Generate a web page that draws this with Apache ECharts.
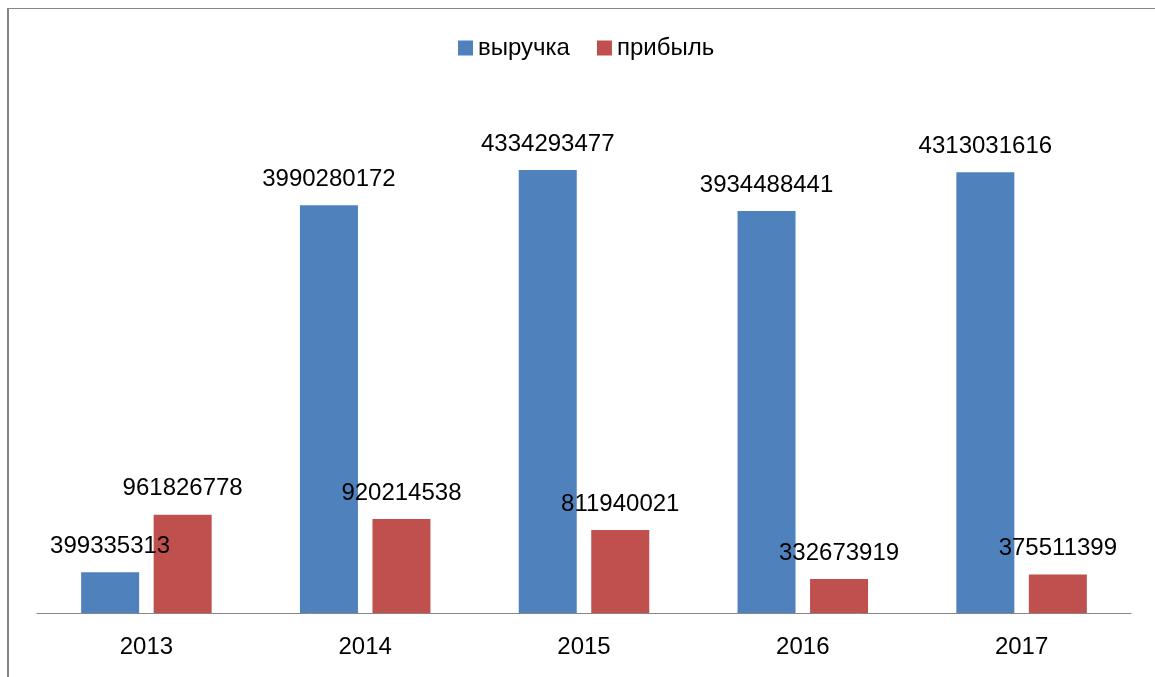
<!DOCTYPE html>
<html>
<head>
<meta charset="utf-8">
<script src="https://cdn.jsdelivr.net/npm/echarts@6/dist/echarts.min.js"></script>
<style>html,body{margin:0;padding:0;background:#fff}#c{width:1155px;height:677px}</style>
</head>
<body>
<div id="c"></div>
<script>
const categories = ['2013', '2014', '2015', '2016', '2017'];
const revenue = [399335313, 3990280172, 4334293477, 3934488441, 4313031616];
const profit = [961826778, 920214538, 811940021, 332673919, 375511399];
const seriesNames = ['выручка', 'прибыль'];

const FONT = '"Liberation Sans", Arial, sans-serif';
const chart = echarts.init(document.getElementById('c'), null, {renderer: 'canvas'});
const labelCfg = {
  show: true, position: 'top', distance: 14,
  color: '#000', fontSize: 24, fontFamily: FONT
};
chart.setOption({
  animation: false,
  backgroundColor: '#fff',
  legend: {
    left: 453, top: 31,
    itemWidth: 15, itemHeight: 15, itemGap: 27,
    icon: 'rect',
    textStyle: {fontSize: 24, fontFamily: FONT, color: '#000'},
    data: seriesNames
  },
  grid: {left: 37, right: 24, top: 102, bottom: 64, containLabel: false},
  xAxis: {
    type: 'category', data: categories,
    axisLine: {lineStyle: {color: '#868686', width: 1}},
    axisTick: {show: false},
    axisLabel: {fontSize: 24, fontFamily: FONT, color: '#000', margin: 22}
  },
  yAxis: {
    type: 'value', min: 0, max: 5000000000,
    show: false, splitLine: {show: false}
  },
  series: [
    {name: seriesNames[0], type: 'bar', data: revenue, barWidth: 58, barGap: '25%',
     itemStyle: {color: '#4F81BD'}, label: labelCfg},
    {name: seriesNames[1], type: 'bar', data: profit, barWidth: 58, barGap: '25%',
     itemStyle: {color: '#C0504D'}, label: labelCfg}
  ],
  graphic: [
    {type: 'line', shape: {x1: 7, y1: 8.5, x2: 1155, y2: 8.5}, style: {stroke: '#868686', lineWidth: 1}},
    {type: 'line', shape: {x1: 8, y1: 8, x2: 8, y2: 677}, style: {stroke: '#868686', lineWidth: 2}}
  ]
});
</script>
</body>
</html>
